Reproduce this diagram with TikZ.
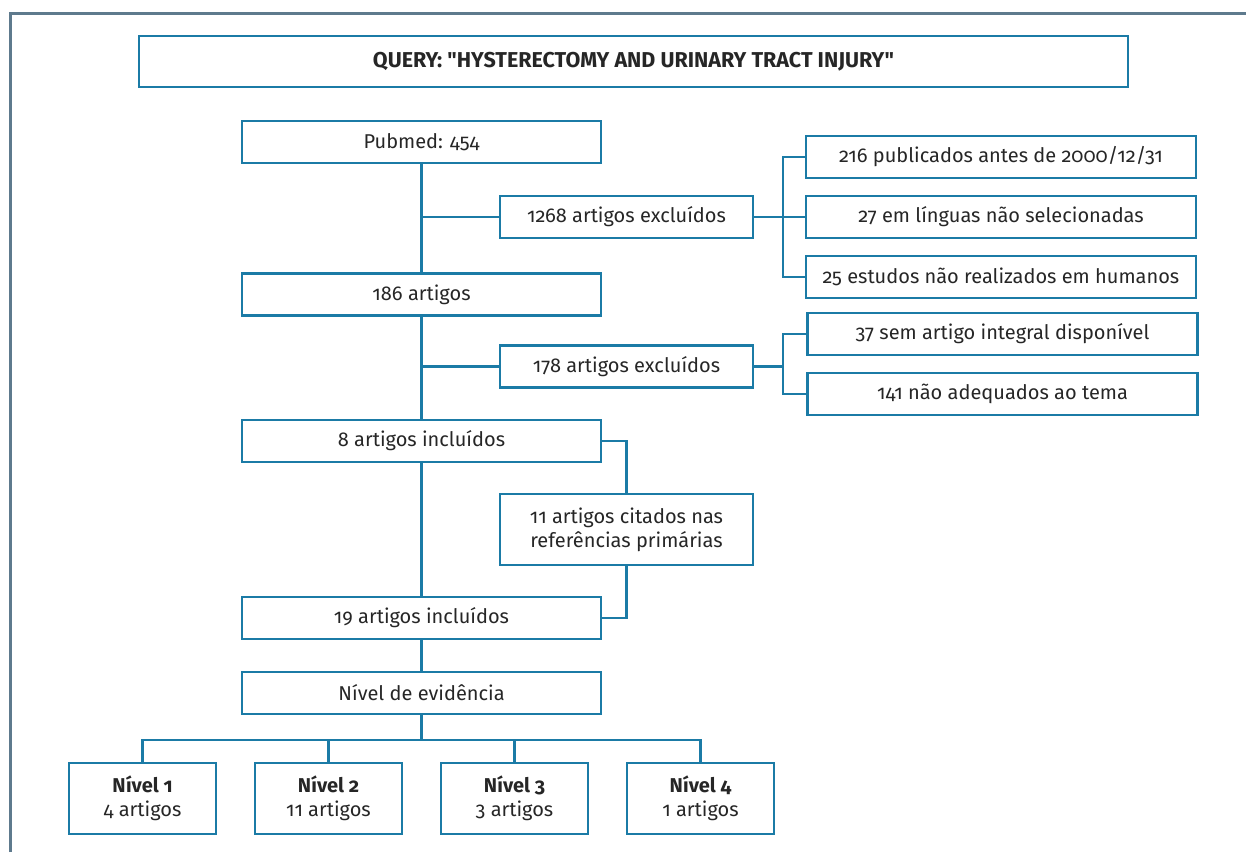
\documentclass[tikz,border=0pt]{standalone}
\usepackage{fontspec}
\setmainfont{Fira Sans}[Numbers={OldStyle,Proportional}, Ligatures=TeXOff]
\usepackage{tikz}
\usetikzlibrary{positioning,calc}
\definecolor{boxblue}{HTML}{1B7BA6}
\definecolor{framegray}{HTML}{5E7A8D}
\tikzstyle{flowbox} = [draw=boxblue, line width=2.2pt, inner sep=0pt,
    minimum height=42pt, align=center, text=black!85,
    font=\fontsize{20}{24}\selectfont]
\tikzstyle{wide} = [flowbox, minimum width=359pt]
\tikzstyle{mid} = [flowbox, minimum width=253pt]
\tikzstyle{side} = [flowbox, minimum width=390pt]
\tikzstyle{level} = [flowbox, minimum width=147pt, minimum height=71pt]
\tikzstyle{link} = [draw=boxblue, line width=2.2pt]

\begin{document}
\begin{tikzpicture}[x=1pt,y=-1pt]
\useasboundingbox (0,0) rectangle (1246,852);
\draw[framegray, line width=3pt] (10,852) -- (10,13) -- (1246,13);

    \node[flowbox, minimum width=989pt, minimum height=51pt,
        font=\fontsize{21.5}{25}\selectfont\bfseries] (query) at (633.5,61.5)
        {QUERY: "HYSTERECTOMY AND URINARY TRACT INJURY"};
    \node[wide] (pub) at (421.5,142) {Pubmed: 454};
    \node[mid] (exc1) at (626.5,217) {1268 artigos excluídos};
    \node[side] (r1) at (1001,157) {216 publicados antes de 2000/12/31};
    \node[side] (r2) at (1001,217) {27 em línguas não selecionadas};
    \node[side] (r3) at (1001,277) {25 estudos não realizados em humanos};
    \node[wide] (a186) at (421.5,294.5) {186 artigos};
    \node[mid] (exc2) at (626.5,366.5) {178 artigos excluídos};
    \node[side] (r4) at (1002.5,334) {37 sem artigo integral disponível};
    \node[side] (r5) at (1002.5,394) {141 não adequados ao tema};
    \node[wide] (inc8) at (421.5,441) {8 artigos incluídos};
    \node[mid, minimum height=71pt] (cit) at (626.5,529.5)
        {11 artigos citados nas\\referências primárias};
    \node[wide] (inc19) at (421.5,618) {19 artigos incluídos};
    \node[wide] (nivel) at (421.5,693) {Nível de evidência};
    \node[level] (n1) at (142.5,798.5) {\textbf{Nível 1}\\4 artigos};
    \node[level] (n2) at (328.5,798.5) {\textbf{Nível 2}\\11 artigos};
    \node[level] (n3) at (514.5,798.5) {\textbf{Nível 3}\\3 artigos};
    \node[level] (n4) at (700.5,798.5) {\textbf{Nível 4}\\1 artigos};

    \coordinate (b1) at (783,217);
    \coordinate (b2) at (783,366.5);
    \coordinate (b5) at (421.5,740);

    \draw[link] (pub) to (a186);
    \draw[link] (exc1.west) to (exc1.west -| pub.south);
    \draw[link] (exc1) to (b1);
    \draw[link] (r1.west) -| (b1) |- (r3.west);
    \draw[link] (b1) to (r2.west);
    \draw[link] (a186) to (inc8);
    \draw[link] (exc2.west) to (exc2.west -| a186.south);
    \draw[link] (exc2) to (b2);
    \draw[link] (r4.west) -| (b2) |- (r5.west);
    \draw[link] (inc8.east) -| (cit.north);
    \draw[link] (cit.south) |- (inc19.east);
    \draw[link] (inc8) to (inc19);
    \draw[link] (inc19) to (nivel);
    \draw[link] (nivel) to (b5);
    \draw[link] (n1.north) |- (b5) -| (n4.north);
    \draw[link] (n2.north) to (n2.north |- b5);
    \draw[link] (n3.north) to (n3.north |- b5);
\end{tikzpicture}
\end{document}
